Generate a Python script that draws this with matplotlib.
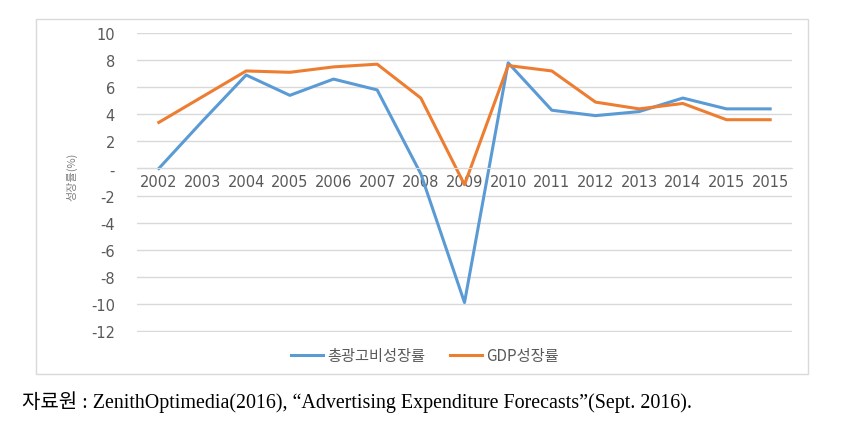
import matplotlib.pyplot as plt
from matplotlib.patches import Rectangle

years = ["2002", "2003", "2004", "2005", "2006", "2007", "2008",
         "2009", "2010", "2011", "2012", "2013", "2014", "2015", "2015"]
ad_growth = [0.0, 3.5, 6.9, 5.4, 6.6, 5.8, -0.4, -9.9, 7.8, 4.3, 3.9, 4.2, 5.2, 4.4, 4.4]
gdp_growth = [3.4, 5.3, 7.2, 7.1, 7.5, 7.7, 5.2, -1.2, 7.6, 7.2, 4.9, 4.4, 4.8, 3.6, 3.6]
yticks = [-12, -10, -8, -6, -4, -2, 0, 2, 4, 6, 8, 10]
ylabels = ["-12", "-10", "-8", "-6", "-4", "-2", "-", "2", "4", "6", "8", "10"]

plt.rcParams['font.family'] = ['DejaVu Sans', 'Noto Sans CJK KR']

fig = plt.figure(figsize=(8.59, 4.35), dpi=100)
# chart border
fig.patches.append(Rectangle((36 / 859, 1 - 375 / 435), 772 / 859, 355 / 435,
                             transform=fig.transFigure, fill=False,
                             edgecolor='#d9d9d9', linewidth=1))

ax = fig.add_axes([137 / 859, 1 - 332.5 / 435, 655 / 859, 299 / 435])
x = list(range(len(years)))
ax.plot(x, ad_growth, color='#5B9BD5', linewidth=2.2, label='총광고비성장률')
ax.plot(x, gdp_growth, color='#ED7D31', linewidth=2.2, label='GDP성장률')

ax.set_xlim(-0.5, len(years) - 0.5)
ax.set_ylim(-12.04, 10.04)
ax.set_yticks(yticks)
ax.set_yticklabels(ylabels)
ax.set_xticks(x)
ax.set_xticklabels(years)
ax.grid(axis='y', color='#d9d9d9', linewidth=1)
ax.set_axisbelow(True)
for s in ['left', 'right', 'top']:
    ax.spines[s].set_visible(False)
ax.spines['bottom'].set_position(('data', 0))
ax.spines['bottom'].set_color('#d9d9d9')
ax.tick_params(axis='both', length=0, labelsize=10.5, colors='#595959')
ax.tick_params(axis='y', pad=16)
ax.tick_params(axis='x', pad=4)

fig.text(72 / 859, 1 - 177 / 435, '성장률(%)', rotation=90, ha='center', va='center',
         fontsize=8, color='#808080', family=['Noto Sans CJK KR', 'DejaVu Sans'])

fig.legend(loc='center', bbox_to_anchor=(425 / 859, 1 - 357 / 435), ncol=2,
           frameon=False, handlelength=2.1, handletextpad=0.3, columnspacing=1.6,
           prop={'family': ['Noto Sans CJK KR', 'DejaVu Sans'], 'size': 11},
           labelcolor='#595959')

fig.text(22 / 859, 1 - 402 / 435,
         '자료원 : ZenithOptimedia(2016), “Advertising Expenditure Forecasts”(Sept. 2016).',
         ha='left', va='center', fontsize=14.4, color='black',
         family=['Liberation Serif', 'Noto Sans CJK KR'])

fig.savefig('out.png', dpi=100)
